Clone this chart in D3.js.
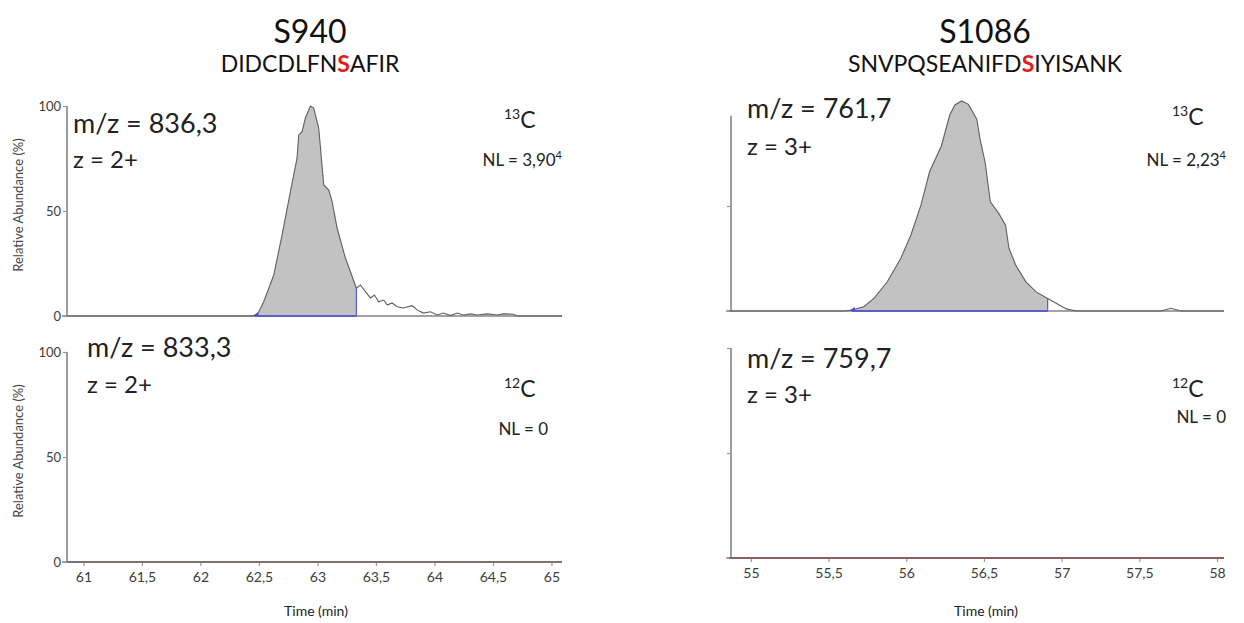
<!DOCTYPE html>
<html>
<head>
<meta charset="utf-8">
<script src="https://cdn.jsdelivr.net/npm/d3@7/dist/d3.min.js"></script>
<style>
  html, body { margin: 0; padding: 0; background: #fff; }
  svg { display: block; font-family: Lato, "Open Sans", sans-serif; }
</style>
</head>
<body>
<svg id="chart" width="1244" height="623"></svg>
<script>
// ---- Peptide headers ----
const peptideSites = ["S940", "S1086"];
const peptideSequences = ["DIDCDLFNSAFIR", "SNVPQSEANIFDSIYISANK"];
const phosphoIndex = [8, 12];

// ---- S940: 13C trace (time in min, relative abundance %) ----
const s940Time = [60.86, 62.45, 62.47, 62.485, 62.541, 62.627, 62.698, 62.769, 62.826, 62.840,
  62.869, 62.897, 62.940, 62.968, 63.011, 63.054, 63.097, 63.126, 63.168, 63.239, 63.282, 63.333,
  63.368, 63.41, 63.453, 63.487, 63.524, 63.567, 63.596, 63.638, 63.681, 63.735, 63.809, 63.852,
  63.906, 63.966, 64.023, 64.077, 64.137, 64.194, 64.248, 64.308, 64.365, 64.45, 64.536, 64.59,
  64.675, 64.707, 65.09];
const s940Heavy = [0, 0, 0, 0.5, 6.8, 19.5, 38.6, 59.2, 75.2, 86.2,
  87.8, 94.3, 100, 99.0, 89.5, 62.4, 60.0, 54.4, 41.9, 27.6, 21.1, 13.2,
  14.8, 11.6, 8.6, 10, 6.8, 7.6, 5.2, 6.2, 4.4, 3.8, 4.9, 2.9,
  1.4, 2.0, 0.5, 1.4, 0.2, 1.4, 0.5, 1.0, 0.5, 1.0, 0.5, 1.0,
  0.8, 0, 0];
// ---- S940: 12C trace ----
const s940LightTime = [60.86, 65.09];
const s940Light = [0, 0];
const s940Window = [62.47, 63.333];
const s940Ticks = [61, 61.5, 62, 62.5, 63, 63.5, 64, 64.5, 65];

// ---- S1086: 13C trace ----
const s1086Time = [54.86, 55.60, 55.65, 55.726, 55.792, 55.878, 55.965, 56.030, 56.095, 56.150,
  56.226, 56.280, 56.313, 56.356, 56.400, 56.454, 56.475, 56.508, 56.541, 56.595, 56.639, 56.661,
  56.704, 56.769, 56.834, 56.910, 56.965, 57.030, 57.095, 57.639, 57.703, 57.768, 58.045];
const s1086Heavy = [0, 0, 0.5, 2.0, 6.0, 13.9, 25.1, 36.2, 50.5, 66.3,
  78.6, 93.3, 98.1, 100, 98.4, 91.3, 81.8, 70.6, 52.0, 46.5, 40.9, 29.9,
  21.9, 14.0, 9.2, 6.0, 3.7, 1.0, 0, 0, 1.3, 0, 0];
// ---- S1086: 12C trace ----
const s1086LightTime = [54.86, 58.045];
const s1086Light = [0, 0];
const s1086Window = [55.65, 56.91];
const s1086Ticks = [55, 55.5, 56, 56.5, 57, 57.5, 58];

const abundanceTicks = [0, 50, 100];

// ---- Annotations ----
const mzLabels = ["m/z = 836,3", "m/z = 833,3", "m/z = 761,7", "m/z = 759,7"];
const chargeLabels = ["z = 2+", "z = 2+", "z = 3+", "z = 3+"];
const isotopeMass = ["13", "12", "13", "12"];
const nlValues = ["3,90", "0", "2,23", "0"];
const nlExponents = ["4", "", "4", ""];

const comma = d3.formatLocale({ decimal: ",", thousands: ".", grouping: [3], currency: ["", ""] }).format("~g");

const svg = d3.select("#chart");
const AXIS = "#858585";
const TEXT = "#222";

// Panel layout
const panels = [
  { col: 0, row: 0, t: s940Time, v: s940Heavy, win: s940Window, xr: [67, 562], xd: [60.86, 65.09], yr: [316, 106], ticks: s940Ticks, labels: true, heavy: true, idx: 0 },
  { col: 0, row: 1, t: s940LightTime, v: s940Light, xr: [67, 562], xd: [60.86, 65.09], yr: [562, 352], ticks: s940Ticks, labels: true, heavy: false, idx: 1 },
  { col: 1, row: 0, t: s1086Time, v: s1086Heavy, win: s1086Window, xr: [731, 1224], xd: [54.872, 58.045], yr: [311, 101], ticks: s1086Ticks, labels: false, heavy: true, idx: 2 },
  { col: 1, row: 1, t: s1086LightTime, v: s1086Light, xr: [731, 1224], xd: [54.872, 58.045], yr: [558, 348], ticks: s1086Ticks, labels: false, heavy: false, idx: 3 }
];

panels.forEach(p => {
  const x = d3.scaleLinear().domain(p.xd).range(p.xr);
  const y = d3.scaleLinear().domain([0, 100]).range(p.yr);
  const g = svg.append("g");
  const pts = p.t.map((t, i) => ({ t, v: p.v[i] }));

  // integrated area of the 13C peak
  if (p.heavy) {
    const inWin = pts.filter(d => d.t >= p.win[0] && d.t <= p.win[1]);
    g.append("path")
      .datum(inWin)
      .attr("fill", "#c2c2c2")
      .attr("d", d3.area().x(d => x(d.t)).y0(y(0)).y1(d => y(d.v)));
  }

  // x axis (baseline)
  const xAxis = d3.axisBottom(x).tickSizeOuter(0);
  if (p.row === 1) {
    xAxis.tickValues(p.ticks).tickSize(4).tickFormat(comma);
  } else {
    xAxis.tickValues([]);
  }
  const xg = g.append("g").attr("transform", `translate(0,${y(0)})`).call(xAxis);
  xg.select(".domain").attr("stroke", AXIS).attr("stroke-width", 1.6)
    .attr("d", `M${p.xr[0] - 5},0H${p.xr[1]}`);
  xg.selectAll(".tick line").attr("stroke", "#999").attr("stroke-width", 1.2);
  xg.selectAll(".tick text").attr("fill", "#3c3c3c").attr("font-size", 14)
    .attr("font-family", "Lato, sans-serif").attr("dy", "0.71em").attr("y", 10);

  // y axis
  const yAxis = d3.axisLeft(y).tickSizeOuter(0).tickSize(4);
  if (p.labels) {
    yAxis.tickValues(abundanceTicks).tickFormat(d3.format("d"));
  } else {
    yAxis.tickValues(p.row === 0 ? [50] : [50, 100]).tickFormat("");
  }
  const yg = g.append("g").attr("transform", `translate(${p.xr[0]},0)`).call(yAxis);
  const yTop = (p.col === 1 && p.row === 0) ? y(93) : y(100);
  yg.select(".domain").attr("stroke", AXIS).attr("stroke-width", 1.6)
    .attr("d", `M0,${yTop}V${y(0)}`);
  yg.selectAll(".tick line").attr("stroke", "#999").attr("stroke-width", 1.2);
  yg.selectAll(".tick text").attr("fill", "#3c3c3c").attr("font-size", 13)
    .attr("font-family", "Lato, sans-serif").attr("x", -6);

  // trace
  const line = d3.line().x(d => x(d.t)).y(d => y(d.v));
  g.append("path")
    .datum(pts)
    .attr("fill", "none")
    .attr("stroke", p.heavy ? "#5f5f5f" : (p.col === 0 ? "#857070" : "#8a5f5f"))
    .attr("stroke-width", p.heavy ? 1.1 : 2)
    .attr("d", line);

  // integration boundary markers
  if (p.heavy) {
    const endPt = pts.filter(d => d.t <= p.win[1]).pop();
    g.append("line")
      .attr("x1", x(p.win[0])).attr("x2", x(p.win[1]))
      .attr("y1", y(0)).attr("y2", y(0))
      .attr("stroke", "#4a4ad6").attr("stroke-width", 1.6);
    g.append("line")
      .attr("x1", x(p.win[1])).attr("x2", x(p.win[1]))
      .attr("y1", y(0)).attr("y2", y(endPt.v))
      .attr("stroke", "#5a5ae0").attr("stroke-width", 1.2);
    g.append("path")
      .attr("d", `M${x(p.win[0]) - 3},${y(0)}L${x(p.win[0]) + 3},${y(0) - 4}L${x(p.win[0]) + 3},${y(0)}Z`)
      .attr("fill", "#4a4ad6");
  }

  // y-axis title (left column only)
  if (p.labels) {
    g.append("text")
      .attr("transform", `translate(23,${(p.yr[0] + p.yr[1]) / 2 - 6}) rotate(-90)`)
      .attr("text-anchor", "middle")
      .attr("font-size", 13)
      .attr("fill", "#444")
      .text("Relative Abundance (%)");
  }

  // x-axis title (bottom row)
  if (p.row === 1) {
    g.append("text")
      .attr("x", p.col === 0 ? 316 : 986)
      .attr("y", 616)
      .attr("text-anchor", "middle")
      .attr("font-size", 14)
      .attr("fill", "#222")
      .text("Time (min)");
  }
});

// ---- Headers ----
const headerX = [310, 985];
peptideSites.forEach((s, i) => {
  svg.append("text")
    .attr("x", headerX[i]).attr("y", 43)
    .attr("text-anchor", "middle")
    .attr("font-size", 32)
    .attr("fill", "#111")
    .text(s);
  const seq = svg.append("text")
    .attr("x", headerX[i]).attr("y", 72)
    .attr("text-anchor", "middle")
    .attr("font-size", 23)
    .attr("fill", "#111");
  const str = peptideSequences[i];
  seq.append("tspan").text(str.slice(0, phosphoIndex[i]));
  seq.append("tspan").attr("fill", "#e41a1c").attr("font-weight", "bold").text(str[phosphoIndex[i]]);
  seq.append("tspan").text(str.slice(phosphoIndex[i] + 1));
});

// ---- Panel annotations ----
const annot = [
  { mzX: 73, mzY: 133, zY: 168, isoX: 504, isoY: 128, nlX: 562, nlY: 166 },
  { mzX: 87, mzY: 357, zY: 393, isoX: 504, isoY: 397, nlX: 548, nlY: 435 },
  { mzX: 747, mzY: 118, zY: 155, isoX: 1172, isoY: 125, nlX: 1226, nlY: 166 },
  { mzX: 747, mzY: 368, zY: 403, isoX: 1172, isoY: 397, nlX: 1226, nlY: 423 }
];
annot.forEach((a, i) => {
  svg.append("text").attr("x", a.mzX).attr("y", a.mzY)
    .attr("font-size", 27).attr("fill", TEXT).text(mzLabels[i]);
  svg.append("text").attr("x", a.mzX).attr("y", a.zY)
    .attr("font-size", 24).attr("fill", TEXT).text(chargeLabels[i]);
  const iso = svg.append("text").attr("x", a.isoX).attr("y", a.isoY).attr("fill", TEXT);
  iso.append("tspan").attr("font-size", 14).attr("dy", -9).text(isotopeMass[i]);
  iso.append("tspan").attr("font-size", 23).attr("dy", 9).text("C");
  const nl = svg.append("text").attr("x", a.nlX).attr("y", a.nlY)
    .attr("text-anchor", "end").attr("fill", TEXT).attr("font-size", 17);
  nl.append("tspan").text("NL = " + nlValues[i]);
  if (nlExponents[i]) {
    nl.append("tspan").attr("font-size", 11).attr("dy", -7).text(nlExponents[i]);
  }
});
</script>
</body>
</html>
